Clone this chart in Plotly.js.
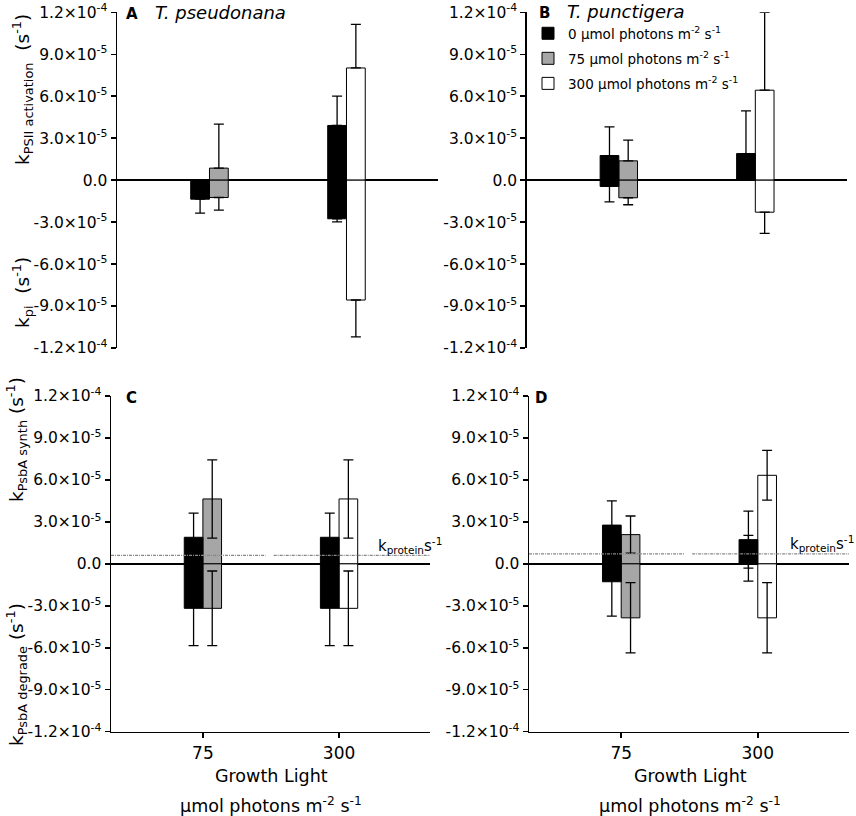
<!DOCTYPE html>
<html>
<head>
<meta charset="utf-8">
<script src="https://cdn.plot.ly/plotly-3.0.1.min.js"></script>
<style>body{margin:0;background:#fff}</style>
</head>
<body>
<div id="chart" style="width:856px;height:816px"></div>
<script>
// growth light groups (x categories)
const groups = ['75', '300'];
const groupPos = [0, 1];

// series: measurement light
const seriesNames = [
  '0 µmol photons m<sup>-2</sup> s<sup>-1</sup>',
  '75 µmol photons m<sup>-2</sup> s<sup>-1</sup>',
  '300 µmol photons m<sup>-2</sup> s<sup>-1</sup>'
];
const seriesColors = ['#000000', '#a6a6a6', '#ffffff'];

const yTickVals = [1.2e-4, 9e-5, 6e-5, 3e-5, 0, -3e-5, -6e-5, -9e-5, -1.2e-4];
const yTickText = ['1.2×10<sup>-4</sup>', '9.0×10<sup>-5</sup>', '6.0×10<sup>-5</sup>', '3.0×10<sup>-5</sup>', '0.0',
  '-3.0×10<sup>-5</sup>', '-6.0×10<sup>-5</sup>', '-9.0×10<sup>-5</sup>', '-1.2×10<sup>-4</sup>'];

// each array: [series 0, series 75, series 300], each one [group 75, group 300]
// A: T. pseudonana, k PSII activation (up) / k pi (down)
const aUp     = [[null, 3.91e-5], [8.6e-6, null], [null, 8.02e-5]];
const aUpHi   = [[null, 2.1e-5], [3.14e-5, null], [null, 3.12e-5]];
const aUpLo   = [[0, 0], [0, 0], [0, 0]];
const aDown   = [[-1.36e-5, -2.76e-5], [-1.24e-5, null], [null, -8.57e-5]];
const aDownHi = [[0, 0], [0, 0], [0, 0]];
const aDownLo = [[1.0e-5, 0.22e-5], [0.9e-5, null], [null, 2.63e-5]];

// B: T. punctigera
const bUp     = [[1.76e-5, 1.9e-5], [1.38e-5, null], [null, 6.43e-5]];
const bUpHi   = [[2.05e-5, 3.05e-5], [1.48e-5, null], [null, 5.57e-5]];
const bUpLo   = [[0, 0], [0, 0], [0, 0]];
const bDown   = [[-4.5e-6, null], [-1.26e-5, null], [null, -2.29e-5]];
const bDownHi = [[0, 0], [0, 0], [0, 0]];
const bDownLo = [[1.1e-5, null], [0.5e-5, null], [null, 1.52e-5]];

// C: T. pseudonana, k PsbA synth (up) / k PsbA degrade (down)
const cUp     = [[1.9e-5, 1.9e-5], [4.64e-5, null], [null, 4.64e-5]];
const cUpHi   = [[1.73e-5, 1.73e-5], [2.8e-5, null], [null, 2.8e-5]];
const cUpLo   = [[1.73e-5, 1.73e-5], [2.8e-5, null], [null, 2.8e-5]];
const cDown   = [[-3.18e-5, -3.18e-5], [-3.18e-5, null], [null, -3.18e-5]];
const cDownHi = [[2.67e-5, 2.67e-5], [2.67e-5, null], [null, 2.67e-5]];
const cDownLo = [[2.67e-5, 2.67e-5], [2.67e-5, null], [null, 2.67e-5]];

// D: T. punctigera
const dUp     = [[2.77e-5, 1.73e-5], [2.09e-5, null], [null, 6.33e-5]];
const dUpHi   = [[1.73e-5, 2.04e-5], [1.33e-5, null], [null, 1.78e-5]];
const dUpLo   = [[1.73e-5, 2.04e-5], [1.33e-5, null], [null, 1.78e-5]];
const dDown   = [[-1.28e-5, -0.4e-6], [-3.86e-5, null], [null, -3.86e-5]];
const dDownHi = [[2.46e-5, 2.08e-5], [2.52e-5, null], [null, 2.52e-5]];
const dDownLo = [[2.46e-5, 1.19e-5], [2.51e-5, null], [null, 2.51e-5]];

// protein turnover reference (C, D)
const kProtein = [6.1e-6, 7.1e-6];

const FONT = 'DejaVu Sans, Arial, sans-serif';
const W = 856, H = 816;
const px = v => v / W;
const py = v => 1 - v / H;

const panels = [
  { ax: '', up: aUp, upHi: aUpHi, upLo: aUpLo, down: aDown, downHi: aDownHi, downLo: aDownLo },
  { ax: '2', up: bUp, upHi: bUpHi, upLo: bUpLo, down: bDown, downHi: bDownHi, downLo: bDownLo },
  { ax: '3', up: cUp, upHi: cUpHi, upLo: cUpLo, down: cDown, downHi: cDownHi, downLo: cDownLo, kp: kProtein[0] },
  { ax: '4', up: dUp, upHi: dUpHi, upLo: dUpLo, down: dDown, downHi: dDownHi, downLo: dDownLo, kp: kProtein[1] }
];

const barW = 0.137;
const xRange = [-0.675, 1.668];
const data = [];

function barTrace(p, s, pi) {
  const fix = a => a.map(v => (v == null ? 0 : v));
  return {
    type: 'bar',
    name: seriesNames[s],
    legendgroup: 's' + s,
    legendrank: s + 1,
    showlegend: pi === 1,
    x: groupPos.concat(groupPos),
    y: p.up[s].concat(p.down[s]),
    width: barW,
    offset: s === 0 ? -barW : 0,
    xaxis: 'x' + p.ax,
    yaxis: 'y' + p.ax,
    marker: { color: seriesColors[s], line: { color: '#000', width: 1 } },
    error_y: {
      type: 'data', symmetric: false,
      array: fix(p.upHi[s].concat(p.downHi[s])),
      arrayminus: fix(p.upLo[s].concat(p.downLo[s])),
      color: '#000', thickness: 1.3, width: 5
    },
    hoverinfo: 'skip'
  };
}

panels.forEach((p, pi) => {
  data.push(barTrace(p, 1, pi));
  data.push(barTrace(p, 2, pi));
  if (p.kp != null) {
    data.push({
      type: 'scatter', mode: 'lines', showlegend: false,
      x: [xRange[0], 0.46, null, 0.52, xRange[1]],
      y: [p.kp, p.kp, null, p.kp, p.kp],
      xaxis: 'x' + p.ax, yaxis: 'y' + p.ax,
      line: { color: '#888', width: 1.2, dash: '3px,1px,1px,1px' },
      hoverinfo: 'skip'
    });
  }
  data.push(barTrace(p, 0, pi));
});

function yAxis(dom, anchor) {
  return {
    domain: dom, anchor: anchor, range: [-1.2e-4, 1.2e-4],
    tickmode: 'array', tickvals: yTickVals, ticktext: yTickText,
    ticks: 'outside', ticklen: 5, tickwidth: 1.5, tickcolor: '#000',
    showline: true, linecolor: '#000', linewidth: 1.5,
    zeroline: true, zerolinecolor: '#000', zerolinewidth: 1.5,
    showgrid: false, fixedrange: true,
    tickfont: { family: FONT, size: 15.5, color: '#000' }
  };
}
function xAxis(dom, anchor, bottom) {
  return {
    domain: dom, anchor: anchor, range: xRange,
    tickmode: 'array', tickvals: groupPos, ticktext: groups,
    showticklabels: bottom, ticks: bottom ? 'outside' : '', ticklen: 5, tickwidth: 1.5, tickcolor: '#000',
    showline: bottom, linecolor: '#000', linewidth: 1.5,
    zeroline: false, showgrid: false, fixedrange: true,
    tickfont: { family: FONT, size: 17, color: '#000' }
  };
}

const topDom = [py(348), py(12.3)];
const botDom = [py(731.7), py(396)];

const ann = [];
function note(text, x, y, size, extra) {
  ann.push(Object.assign({ text: text, xref: 'paper', yref: 'paper', x: px(x), y: py(y),
    xanchor: 'center', yanchor: 'middle',
    showarrow: false, font: { family: FONT, size: size, color: '#000' } }, extra || {}));
}
note('<b>A</b>', 132, 14, 15);
note('<i>T. pseudonana</i>', 153, 13, 18, { xanchor: 'left' });
note('<b>B</b>', 544, 13, 15);
note('<i>T. punctigera</i>', 565, 12, 18, { xanchor: 'left' });
note('<b>C</b>', 131, 398, 15);
note('<b>D</b>', 541, 398, 15);
note('k<sub>PSII activation</sub>  (s<sup>-1</sup>)', 22, 90, 18.5, { textangle: -90 });
note('k<sub>pi</sub>  (s<sup>-1</sup>)', 22, 293, 18.5, { textangle: -90 });
note('k<sub>PsbA synth</sub> (s<sup>-1</sup>)', 16, 440, 18.5, { textangle: -90 });
note('k<sub>PsbA degrade</sub> (s<sup>-1</sup>)', 16, 675, 18.5, { textangle: -90 });
note('k<sub>protein</sub>s<sup>-1</sup>', 376, 545, 15, { xanchor: 'left' });
note('k<sub>protein</sub>s<sup>-1</sup>', 788, 543, 15, { xanchor: 'left' });
note('Growth Light', 271, 776, 17.5);
note('µmol photons m<sup>-2</sup> s<sup>-1</sup>', 271, 805, 17.5);
note('Growth Light', 690, 776, 17.5);
note('µmol photons m<sup>-2</sup> s<sup>-1</sup>', 690, 805, 17.5);

const layout = {
  width: W, height: H,
  margin: { l: 0, r: 0, t: 0, b: 0 },
  paper_bgcolor: '#fff', plot_bgcolor: 'rgba(0,0,0,0)',
  barmode: 'overlay',
  font: { family: FONT, color: '#000' },
  showlegend: true,
  legend: {
    x: px(528), y: py(18), xanchor: 'left', yanchor: 'top',
    bgcolor: 'rgba(0,0,0,0)', font: { family: FONT, size: 13.5, color: '#000' },
    traceorder: 'grouped', tracegroupgap: 4.5
  },
  xaxis: xAxis([px(117), px(438)], 'y', false),
  yaxis: yAxis(topDom, 'x'),
  xaxis2: xAxis([px(526.7), px(846.5)], 'y2', false),
  yaxis2: yAxis(topDom, 'x2'),
  xaxis3: xAxis([px(111), px(430)], 'y3', true),
  yaxis3: yAxis(botDom, 'x3'),
  xaxis4: xAxis([px(529), px(849)], 'y4', true),
  yaxis4: yAxis(botDom, 'x4'),
  annotations: ann
};

Plotly.newPlot('chart', data, layout, { displayModeBar: false, staticPlot: true });
</script>
</body>
</html>
